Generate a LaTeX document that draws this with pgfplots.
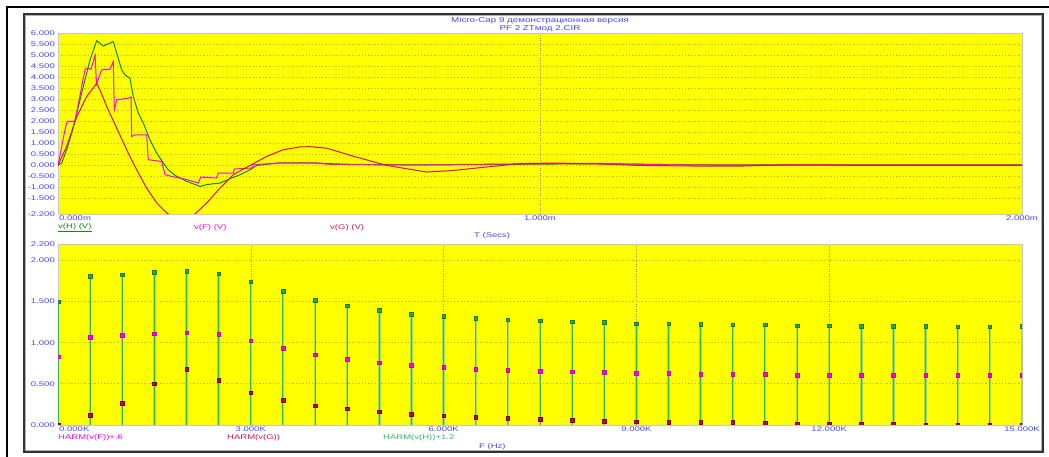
\documentclass[border=0pt]{standalone}
\usepackage{fontspec}
\setmainfont{Liberation Sans}
\newfontfamily\mcfontfam{Liberation Sans}[FakeStretch=1.4]
\newcommand\mcf{\mcfontfam\fontsize{6.8}{7.5}\selectfont}
\newcommand\mct{\mcfontfam\fontsize{7}{8}\selectfont}
\usepackage{pgfplots}
\usepackage{pgfplotstable}
\pgfplotsset{compat=1.18}
\definecolor{myyellow}{RGB}{255,255,0}
\definecolor{gridolive}{RGB}{190,190,40}
\definecolor{gridgray}{RGB}{150,150,110}
\definecolor{tickblue}{RGB}{70,70,255}
\definecolor{lgreen}{RGB}{20,135,20}
\definecolor{lmag}{RGB}{255,0,255}
\definecolor{lred}{RGB}{210,20,80}
\definecolor{stemhalo}{RGB}{160,225,90}
\definecolor{stemgreen}{RGB}{50,185,95}
\definecolor{mkgreen}{RGB}{40,170,70}
\definecolor{mkmag}{RGB}{255,0,230}
\definecolor{mkred}{RGB}{200,0,60}

\pgfplotstableread{
f h fm g
0 1.500 0.829 0.000
500 1.808 1.068 0.117
1000 1.828 1.088 0.267
1500 1.860 1.112 0.501
2000 1.872 1.124 0.679
2500 1.840 1.100 0.542
3000 1.743 1.027 0.392
3500 1.626 0.934 0.299
4000 1.520 0.853 0.235
4500 1.448 0.797 0.198
5000 1.395 0.756 0.162
5500 1.347 0.724 0.133
6000 1.322 0.700 0.113
6500 1.298 0.679 0.097
7000 1.278 0.667 0.085
7500 1.266 0.655 0.069
8000 1.254 0.647 0.061
8500 1.250 0.639 0.049
9000 1.233 0.631 0.040
9500 1.229 0.627 0.036
10000 1.223 0.619 0.032
10500 1.217 0.615 0.032
11000 1.217 0.615 0.020
11500 1.209 0.607 0.016
12000 1.209 0.607 0.012
12500 1.201 0.607 0.008
13000 1.201 0.603 0.008
13500 1.201 0.603 0.004
14000 1.197 0.603 0.004
14500 1.197 0.603 0.004
15000 1.201 0.603 0.004
}\harm

\pgfplotsset{
  mcaxis/.style={
    scale only axis, anchor=south west,
    width=964pt, height=181pt,
    axis background/.style={fill=myyellow},
    axis line style={draw=gray!45, line width=0.8pt},
    major tick length=0pt,
    every tick label/.append style={font=\mcf, text=tickblue, inner sep=1pt},
    yticklabel style={xshift=-2pt},
    xticklabel style={yshift=-1pt},
    ymajorgrids, xmajorgrids,
    y grid style={draw=gridolive, dash pattern=on 1.3pt off 2pt, line width=0.9pt},
    x grid style={draw=gridgray, dash pattern=on 1pt off 1.5pt, line width=0.6pt},
    extra tick style={grid=none},
    scaled x ticks=false, scaled y ticks=false,
    clip marker paths=true,
  }
}

\begin{document}
\begin{tikzpicture}[x=1pt,y=1pt]
\path[use as bounding box] (0pt,0pt) rectangle (1049pt,457pt);
% window frames
\draw[black, line width=2pt] (7pt,0pt) -- (7pt,450pt) -- (1049pt,450pt);
\draw[black!80, line width=1.3pt] (24pt,5pt) rectangle (1043pt,443pt);
\draw[gray!60, line width=0.6pt] (25.5pt,6.5pt) rectangle (1041.5pt,441.5pt);

% ---------- top: transient ----------
\begin{axis}[mcaxis, at={(58pt,243pt)},
  xmin=0, xmax=2, ymin=-2.2, ymax=6,
  ytick={-1.5,-1,-0.5,0,0.5,1,1.5,2,2.5,3,3.5,4,4.5,5,5.5},
  yticklabels={-1.500,-1.000,-0.500,0.000,0.500,1.000,1.500,2.000,2.500,3.000,3.500,4.000,4.500,5.000,5.500},
  extra y ticks={-2.2,6}, extra y tick labels={-2.200,6.000},
  xtick={1,2}, xticklabels={1.000m,2.000m},
  extra x ticks={0}, extra x tick labels={0.000m},
  extra x tick style={grid=none, xticklabel style={anchor=north west}},
]
\addplot[lgreen, line width=1pt] table {
0 0
0.0077 0.11
0.018 0.71
0.0284 1.46
0.0388 2.37
0.0525 3.57
0.0664 4.78
0.0803 5.65
0.0940 5.41
0.1147 5.61
0.1218 5.08
0.1322 4.33
0.1390 4.10
0.1494 3.95
0.1562 3.12
0.1666 2.37
0.1770 1.92
0.1909 1.16
0.2048 0.56
0.2185 0.11
0.2288 -0.20
0.2427 -0.45
0.2670 -0.72
0.2946 -0.95
0.3085 -0.87
0.3222 -0.83
0.3361 -0.80
0.3568 -0.60
0.3776 -0.42
0.3983 -0.20
0.4122 0.00
0.4606 0.12
0.5290 0.12
0.5643 0.08
0.6058 0.05
0.75 0.02
1.0 0.06
1.12 0.08
1.3 0.03
2.0 0.02
};
\addplot[lmag, line width=1pt] table {
0 0
0.0077 0.86
0.0145 1.61
0.0180 1.92
0.0214 2.00
0.0353 2.00
0.0525 3.95
0.0560 4.33
0.0591 4.40
0.0685 4.36
0.0768 5.00
0.0799 3.70
0.0907 4.33
0.1079 4.36
0.1147 4.70
0.1168 2.52
0.1218 2.97
0.1459 3.05
0.1515 3.10
0.1529 1.31
0.1598 1.39
0.1840 1.39
0.1873 0.26
0.2151 0.18
0.2220 -0.42
0.2359 -0.50
0.2635 -0.62
0.2911 -0.80
0.2961 -0.53
0.3293 -0.57
0.3326 -0.35
0.3637 -0.35
0.3658 -0.16
0.4019 -0.12
0.4052 0.03
0.4606 0.11
0.5290 0.11
0.5643 0.05
0.7095 0.02
1.02 0.08
1.124 0.08
1.33 0.02
2.0 0.01
};
\addplot[lred, line width=1pt] table {
0 0
0.018 0.86
0.0388 2.20
0.0595 3.12
0.0803 3.72
0.0871 3.42
0.1010 2.67
0.1218 1.69
0.1425 0.71
0.1633 -0.20
0.1840 -1.03
0.2048 -1.70
0.2255 -2.15
0.2365 -2.30
0.2552 -2.45
0.2739 -2.33
0.2842 -2.20
0.3085 -1.70
0.3361 -1.03
0.3637 -0.42
0.3983 0.00
0.4330 0.41
0.4674 0.71
0.5021 0.84
0.5228 0.85
0.5575 0.78
0.5851 0.60
0.6120 0.42
0.6819 0.00
0.7649 -0.30
0.8195 -0.23
0.8894 -0.07
0.9585 0.08
1.0270 0.11
1.1307 0.06
1.2075 0.00
1.332 -0.03
1.415 -0.03
1.498 0.02
1.602 0.02
1.664 0.00
2.0 0.00
};
\end{axis}

% ---------- bottom: harmonics ----------
\begin{axis}[mcaxis, at={(58pt,32pt)},
  xmin=0, xmax=15000, ymin=0, ymax=2.2,
  ytick={0.5,1,1.5,2}, yticklabels={0.500,1.000,1.500,2.000},
  extra y ticks={0,2.2}, extra y tick labels={0.000,2.200},
  xtick={3000,6000,9000,12000,15000},
  xticklabels={3.000K,6.000K,9.000K,12.000K,15.000K},
  extra x ticks={0}, extra x tick labels={0.000K},
  extra x tick style={grid=none, xticklabel style={anchor=north west}},
]
\addplot[ycomb, draw=stemhalo, line width=2.4pt] table[x=f,y=h]{\harm};
\addplot[ycomb, draw=stemgreen, line width=0.9pt] table[x=f,y=h]{\harm};
\addplot[only marks, mark=square*, mark size=1.8pt, mark options={fill=mkgreen, draw=mkgreen!70!black, line width=0.4pt}] table[x=f,y=h]{\harm};
\addplot[only marks, mark=square*, mark size=1.8pt, mark options={fill=mkmag, draw=mkmag!80!black, line width=0.4pt}] table[x=f,y=fm]{\harm};
\addplot[only marks, mark=square*, mark size=1.8pt, mark options={fill=mkred, draw=mkred!60!black, line width=0.4pt}] table[x=f,y=g]{\harm};
\end{axis}

% ---------- texts ----------
\node[text=tickblue, font=\mct] at (540pt,436.5pt) {Micro-Cap 9 демонстрационная версия};
\node[text=tickblue, font=\mct] at (540pt,428.3pt) {PF 2 ZTмод 2.CIR};
\node[anchor=west, inner sep=0pt, text=lgreen, font=\mcf] at (58pt,229.5pt) {\underline{v(H) (V)}};
\node[anchor=west, inner sep=0pt, text=lmag, font=\mcf] at (194pt,229.5pt) {v(F) (V)};
\node[anchor=west, inner sep=0pt, text=lred, font=\mcf] at (330pt,229.5pt) {v(G) (V)};
\node[anchor=west, inner sep=0pt, text=tickblue, font=\mcf] at (474pt,221pt) {T (Secs)};
\node[anchor=west, inner sep=0pt, text=lmag, font=\mcf] at (58pt,19pt) {HARM(v(F))+.6};
\node[anchor=west, inner sep=0pt, text=lred, font=\mcf] at (227pt,19pt) {HARM(v(G))};
\node[anchor=west, inner sep=0pt, text=stemgreen, font=\mcf] at (383pt,19pt) {HARM(v(H))+1.2};
\node[anchor=west, inner sep=0pt, text=tickblue, font=\mcf] at (479pt,10.5pt) {F (Hz)};
\end{tikzpicture}
\end{document}
